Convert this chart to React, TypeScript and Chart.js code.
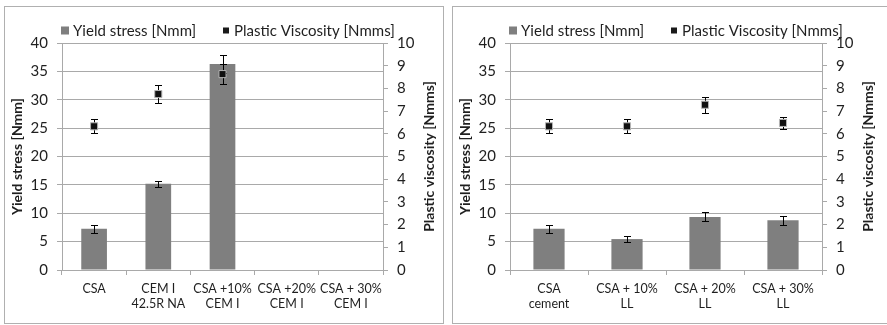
import React, { useEffect, useRef } from "react";
import { Chart, registerables } from "chart.js";

Chart.register(...registerables);

// ---- data: mixes with CEM I ----
const leftCategories = ["CSA", ["CEM I", "42.5R NA"], ["CSA +10%", "CEM I"], ["CSA +20%", "CEM I"], ["CSA + 30%", "CEM I"]];
const leftYield = [7.25, 15.2, 36.3, null, null];
const leftYieldErr = [0.65, 0.5, 1.6, null, null];
const leftVisc = [6.33, 7.75, 8.63, null, null];
const leftViscErr = [0.3, 0.4, 0.45, null, null];

// ---- data: mixes with limestone (LL) ----
const rightCategories = [["CSA", "cement"], ["CSA + 10%", "LL"], ["CSA + 20%", "LL"], ["CSA + 30%", "LL"]];
const rightYield = [7.25, 5.45, 9.35, 8.75];
const rightYieldErr = [0.65, 0.55, 0.8, 0.85];
const rightVisc = [6.33, 6.33, 7.28, 6.48];
const rightViscErr = [0.3, 0.3, 0.35, 0.28];

// ---- axes & labels ----
const yieldMax = 40;
const yieldStep = 5;
const viscMax = 10;
const viscStep = 1;
const yieldLegend = "Yield stress [Nmm]";
const viscLegend = "Plastic Viscosity [Nmms]";
const yieldTitle = "Yield stress [Nmm]";
const viscTitle = "Plastic viscosity [Nmms]";

const FONT = "Lato, 'Open Sans', sans-serif";
const GRID = "#a9a9a9";
const TEXT = "#1f1f1f";
const BAR = "#7f7f7f";

// error bars: bar errors drawn over the bar, marker errors drawn under the marker
const errorBarPlugin = {
  id: "errorBars",
  beforeDatasetDraw(chart: any, args: any, opts: any) {
    if (chart.data.datasets[args.index].type === "line") drawErrors(chart, args.index, opts);
  },
  afterDatasetDraw(chart: any, args: any, opts: any) {
    if (chart.data.datasets[args.index].type !== "line") drawErrors(chart, args.index, opts);
  },
};

function drawErrors(chart: any, index: number, opts: any) {
  const errs = opts.errors?.[index];
  if (!errs) return;
  const ds = chart.data.datasets[index];
  const meta = chart.getDatasetMeta(index);
  const scale = chart.scales[meta.yAxisID];
  const ctx = chart.ctx;
  ctx.save();
  ctx.strokeStyle = "#000";
  ctx.lineWidth = 1;
  meta.data.forEach((el: any, j: number) => {
    const v = ds.data[j];
    const e = errs[j];
    if (v == null || e == null) return;
    const x = Math.round(el.x) + 0.5;
    const top = Math.round(scale.getPixelForValue(v + e)) + 0.5;
    const bot = Math.round(scale.getPixelForValue(v - e)) + 0.5;
    ctx.beginPath();
    ctx.moveTo(x, top);
    ctx.lineTo(x, bot);
    ctx.moveTo(x - 3.5, top);
    ctx.lineTo(x + 3.5, top);
    ctx.moveTo(x - 3.5, bot);
    ctx.lineTo(x + 3.5, bot);
    ctx.stroke();
  });
  ctx.restore();
}

// legend row and axis titles
const decorPlugin = {
  id: "decor",
  afterDraw(chart: any) {
    const { ctx, chartArea } = chart;
    const L = chartArea.left;
    ctx.save();
    const cy = 23.5;
    ctx.fillStyle = BAR;
    ctx.fillRect(L - 1, cy - 4, 8, 8);
    ctx.fillStyle = "#1a1a1a";
    ctx.fillRect(L + 161, cy - 3, 6, 6);
    ctx.fillStyle = TEXT;
    ctx.font = `15px ${FONT}`;
    ctx.textBaseline = "middle";
    ctx.textAlign = "left";
    ctx.fillText(yieldLegend, L + 11, cy + 1);
    ctx.fillText(viscLegend, L + 172, cy + 1);

    const midY = (chartArea.top + chartArea.bottom) / 2;
    ctx.font = `bold 14px ${FONT}`;
    ctx.textAlign = "center";
    ctx.textBaseline = "middle";
    [L - 45, chartArea.right + 46].forEach((x, k) => {
      ctx.save();
      ctx.translate(x, midY);
      ctx.rotate(-Math.PI / 2);
      ctx.fillText(k === 0 ? yieldTitle : viscTitle, 0, 0);
      ctx.restore();
    });
    ctx.restore();
  },
};

type PanelProps = {
  left: number;
  categories: any[];
  yieldVals: (number | null)[];
  yieldErr: (number | null)[];
  viscVals: (number | null)[];
  viscErr: (number | null)[];
  rightAxisWidth: number;
};

function Panel({ left, categories, yieldVals, yieldErr, viscVals, viscErr, rightAxisWidth }: PanelProps) {
  const ref = useRef<HTMLCanvasElement>(null);

  useEffect(() => {
    if (!ref.current) return;
    const tickFont = { family: FONT, size: 15 };
    const chart = new Chart(ref.current, {
      type: "bar",
      data: {
        labels: categories,
        datasets: [
          {
            type: "bar",
            label: yieldLegend,
            data: yieldVals,
            backgroundColor: BAR,
            yAxisID: "y",
            barPercentage: 0.8,
            categoryPercentage: 0.5,
            order: 2,
          } as any,
          {
            type: "line",
            label: viscLegend,
            data: viscVals,
            showLine: false,
            yAxisID: "y1",
            pointStyle: "rect",
            pointRadius: 5,
            pointBackgroundColor: "#111",
            pointBorderColor: "#b5b5b5",
            pointBorderWidth: 1,
            order: 1,
          } as any,
        ],
      },
      options: {
        responsive: false,
        animation: false,
        events: [],
        layout: { padding: { top: 36, left: 0, right: 0, bottom: 0 } },
        plugins: {
          legend: { display: false },
          tooltip: { enabled: false },
          errorBars: { errors: [yieldErr, viscErr] },
        } as any,
        scales: {
          x: {
            offset: true,
            grid: { display: true, drawOnChartArea: false, offset: true, tickLength: 5, color: GRID },
            border: { display: true, color: GRID },
            ticks: { font: { family: FONT, size: 12.5 }, color: TEXT, maxRotation: 0, autoSkip: false, padding: 6 },
            afterFit: (s: any) => {
              s.height = 53;
            },
          },
          y: {
            position: "left",
            min: 0,
            max: yieldMax,
            ticks: { stepSize: yieldStep, font: tickFont, color: TEXT, padding: 9 },
            grid: { color: GRID, tickLength: 5 },
            border: { display: true, color: GRID },
            afterFit: (s: any) => {
              s.width = 57;
            },
          },
          y1: {
            position: "right",
            min: 0,
            max: viscMax,
            ticks: { stepSize: viscStep, font: tickFont, color: TEXT, padding: 9 },
            grid: { drawOnChartArea: false, color: GRID, tickLength: 5 },
            border: { display: true, color: GRID },
            afterFit: (s: any) => {
              s.width = rightAxisWidth;
            },
          },
        },
      } as any,
      plugins: [errorBarPlugin as any, decorPlugin as any],
    });
    return () => chart.destroy();
  }, []);

  return (
    <div
      style={{
        position: "absolute",
        left,
        top: 6,
        width: 438,
        height: 316,
        border: "1px solid #b0b0b0",
        background: "#fff",
      }}
    >
      <canvas ref={ref} width={438} height={316} style={{ display: "block" }} />
    </div>
  );
}

export default function App() {
  return (
    <div
      style={{
        position: "fixed",
        left: 0,
        top: 0,
        width: 887,
        height: 325,
        overflow: "hidden",
        background: "#fff",
      }}
    >
      <Panel
        left={4}
        categories={leftCategories}
        yieldVals={leftYield}
        yieldErr={leftYieldErr}
        viscVals={leftVisc}
        viscErr={leftViscErr}
        rightAxisWidth={60}
      />
      <Panel
        left={452}
        categories={rightCategories}
        yieldVals={rightYield}
        yieldErr={rightYieldErr}
        viscVals={rightVisc}
        viscErr={rightViscErr}
        rightAxisWidth={69}
      />
    </div>
  );
}
